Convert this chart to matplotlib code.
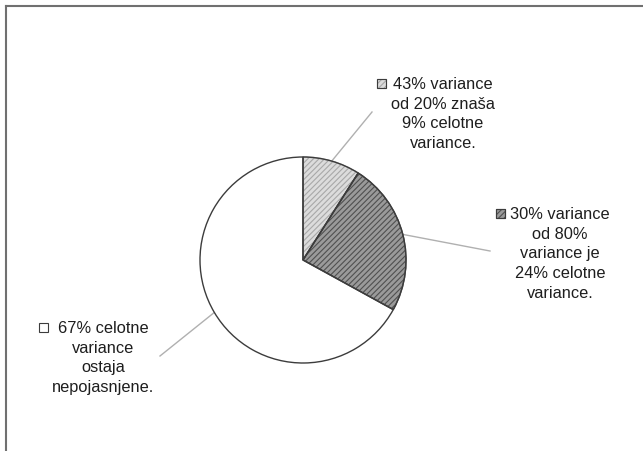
import numpy as np
import matplotlib.pyplot as plt
from matplotlib.patches import Rectangle, Wedge

plt.rcParams['font.family'] = ['Liberation Sans', 'DejaVu Sans']
plt.rcParams['hatch.linewidth'] = 0.8

# delež celotne variance po segmentih
shares = [9, 24, 67]
labels = [
    "43% variance\nod 20% znaša\n9% celotne\nvariance.",
    "30% variance\nod 80%\nvariance je\n24% celotne\nvariance.",
    "67% celotne\nvariance\nostaja\nnepojasnjene.",
]
faces = ['#dcdcdc', '#9a9a9a', 'white']
hatch_cols = ['#a8a8a8', '#505050', 'white']
hatches = ['//////', '//////', None]

W, H = 643, 452
fig = plt.figure(figsize=(W / 100, H / 100), dpi=100)
ax = fig.add_axes([0, 0, 1, 1])
ax.axis('off')

cx, cy, r = 303, H - 261, 103
wedges, _ = ax.pie(shares, startangle=90, counterclock=False, center=(cx, cy),
                   radius=r, frame=True,
                   wedgeprops=dict(edgecolor='#3c3c3c', linewidth=1.0))
for w, fc, hc, h in zip(wedges, faces, hatch_cols, hatches):
    w.set_facecolor(fc)
    if h:
        w.set_hatch(h)
        w.set_edgecolor(hc)
        # obroba posebej, da šrafura ostane svetlejša
        ax.add_patch(Wedge(w.center, w.r, w.theta1, w.theta2, fill=False,
                           edgecolor='#3c3c3c', linewidth=1.0))
ax.set_xlim(0, W)
ax.set_ylim(0, H)
ax.set_aspect('equal')
ax.axis('off')

# položaji besedil (središče prve vrstice) in konec povezovalne črte
text_pos = [(443, H - 84), (560, H - 214), (103, H - 328)]
line_end = [(372, H - 113), (490, H - 252), (160, H - 357)]
marker_x = [377, 496, 39]

acc = 0
for i, (s, lab) in enumerate(zip(shares, labels)):
    mid = 90 - (acc + s / 2) / 100 * 360
    acc += s
    px = cx + r * np.cos(np.radians(mid))
    py = cy + r * np.sin(np.radians(mid))
    ax.plot([px, line_end[i][0]], [py, line_end[i][1]], color='#b0b0b0', lw=1.0, zorder=0)
    tx, ty = text_pos[i]
    ax.text(tx, ty + 7, lab, ha='center', va='top', fontsize=11.8,
            linespacing=1.39, color='#1e1e1e')
    ax.add_patch(Rectangle((marker_x[i], ty - 5), 9, 9, facecolor=faces[i],
                           edgecolor='#3c3c3c' if i == 2 else hatch_cols[i],
                           hatch=hatches[i], linewidth=0.8))
    if i < 2:
        ax.add_patch(Rectangle((marker_x[i], ty - 5), 9, 9, fill=False,
                               edgecolor='#3c3c3c', linewidth=0.8))

# okvir zgoraj in levo
ax.plot([6, W], [H - 7, H - 7], color='#707070', lw=1.5)
ax.plot([6, 6], [0, H - 7], color='#707070', lw=1.5)

fig.savefig('out.png', dpi=100)
